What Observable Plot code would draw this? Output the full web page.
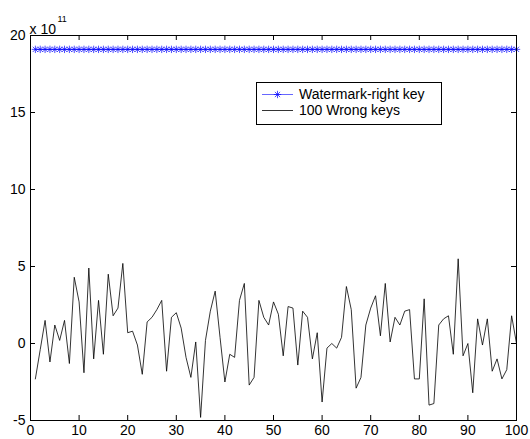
<!DOCTYPE html>
<html><head><meta charset="utf-8">
<script src="https://cdn.jsdelivr.net/npm/d3@7"></script>
<script src="https://cdn.jsdelivr.net/npm/@observablehq/plot@0.6"></script>
<style>
html,body{margin:0;padding:0;background:#fff;}
#chart{position:relative;width:530px;height:439px;}
svg{display:block;}
</style></head><body><div id="chart"></div>
<script>
const seriesNames = ["Watermark-right key", "100 Wrong keys"];
const rightKey = [
19.1,19.1,19.1,19.1,19.1,19.1,19.1,19.1,19.1,19.1,
19.1,19.1,19.1,19.1,19.1,19.1,19.1,19.1,19.1,19.1,
19.1,19.1,19.1,19.1,19.1,19.1,19.1,19.1,19.1,19.1,
19.1,19.1,19.1,19.1,19.1,19.1,19.1,19.1,19.1,19.1,
19.1,19.1,19.1,19.1,19.1,19.1,19.1,19.1,19.1,19.1,
19.1,19.1,19.1,19.1,19.1,19.1,19.1,19.1,19.1,19.1,
19.1,19.1,19.1,19.1,19.1,19.1,19.1,19.1,19.1,19.1,
19.1,19.1,19.1,19.1,19.1,19.1,19.1,19.1,19.1,19.1,
19.1,19.1,19.1,19.1,19.1,19.1,19.1,19.1,19.1,19.1,
19.1,19.1,19.1,19.1,19.1,19.1,19.1,19.1,19.1,19.1];
const wrongKeys = [
-2.3,-0.4,1.5,-1.2,1.2,0.2,1.5,-1.3,4.3,2.7,
-1.9,4.9,-1.0,2.8,-0.7,4.5,1.8,2.3,5.2,0.7,
0.8,-0.1,-2.0,1.4,1.7,2.2,2.8,-1.8,1.7,2.0,
1.0,-0.9,-2.2,0.1,-4.8,0.2,2.1,3.4,0.4,-2.5,
-0.7,-0.9,2.8,3.9,-2.7,-2.2,2.8,1.7,1.2,2.7,
1.9,-0.8,2.4,2.3,-1.4,2.1,1.7,-1.0,0.7,-3.8,
-0.3,0.0,-0.3,0.4,3.7,2.2,-2.9,-2.2,1.2,2.3,
3.1,0.5,3.9,0.1,1.7,1.2,2.1,2.2,-2.3,-2.3,
2.9,-4.0,-3.9,1.2,1.6,1.8,-0.7,5.5,-0.8,0.0,
-3.2,1.6,-0.1,1.6,-1.8,-1.0,-2.3,-1.7,1.8,0.0];
const xTicks = [0,10,20,30,40,50,60,70,80,90,100];
const yTicks = [-5,0,5,10,15,20];
const exponentBase = "x 10";
const exponentPower = "11";

const W = 530, H = 439;
const mL = 30, mR = 14, mT = 35, mB = 19;
const innerW = W - mL - mR, innerH = H - mT - mB;
const font = "'Liberation Sans', Arial, Helvetica, sans-serif";

const rightData = rightKey.map((v, i) => ({x: i + 1, y: v}));
const wrongData = wrongKeys.map((v, i) => ({x: i + 1, y: v}));

const asterisk = {
  draw(ctx, size) {
    const r = Math.sqrt(size / Math.PI);
    const d = r * 0.7071;
    ctx.moveTo(-r, 0); ctx.lineTo(r, 0);
    ctx.moveTo(0, -r); ctx.lineTo(0, r);
    ctx.moveTo(-d, -d); ctx.lineTo(d, d);
    ctx.moveTo(-d, d); ctx.lineTo(d, -d);
  }
};
const markerR = 3.7;

const fmt = d => String(d);

const plot = Plot.plot({
  width: W, height: H,
  marginLeft: mL, marginRight: mR, marginTop: mT, marginBottom: mB,
  style: {fontFamily: font, fontSize: "14px", background: "#fff", color: "#000"},
  x: {domain: [0, 100], label: null},
  y: {domain: [-5, 20], label: null},
  marks: [
    Plot.line(wrongData, {x: "x", y: "y", stroke: "#000", strokeWidth: 0.8}),
    Plot.line(rightData, {x: "x", y: "y", stroke: "#0000ff", strokeWidth: 0.6}),
    Plot.dot(rightData, {x: "x", y: "y", symbol: asterisk, r: markerR, stroke: "#0000ff", fill: "none", strokeWidth: 0.7}),
    Plot.tickX(xTicks, {x: d => d, insetTop: innerH - 5, stroke: "#000"}),
    Plot.tickX(xTicks, {x: d => d, insetBottom: innerH - 5, stroke: "#000"}),
    Plot.tickY(yTicks, {y: d => d, insetRight: innerW - 5, stroke: "#000"}),
    Plot.tickY(yTicks, {y: d => d, insetLeft: innerW - 5, stroke: "#000"}),
    Plot.frame({stroke: "#000"}),
    Plot.axisX(xTicks, {tickSize: 0, tickPadding: 5, tickFormat: fmt, fontSize: 14, label: null}),
    Plot.axisY(yTicks, {tickSize: 0, tickPadding: 5, tickFormat: fmt, fontSize: 14, label: null}),
    Plot.text([exponentBase], {frameAnchor: "top-left", text: d => d, textAnchor: "start", dx: -1, dy: -11, fontSize: 14}),
    Plot.text([exponentPower], {frameAnchor: "top-left", text: d => d, textAnchor: "start", dx: 27, dy: -20, fontSize: 9})
  ]
});

document.getElementById("chart").appendChild(plot);

// legend inside the axes
const svg = d3.select(plot);
const lg = svg.append("g").attr("font-family", font).attr("font-size", 14).attr("text-anchor", "start");
lg.append("rect").attr("x", 256.5).attr("y", 82.5).attr("width", 185).attr("height", 42)
  .attr("fill", "#fff").attr("stroke", "#000").attr("stroke-width", 1);
const rows = [
  {name: seriesNames[0], color: "#0000ff", marker: true, y: 94.5},
  {name: seriesNames[1], color: "#000", marker: false, y: 110.5}
];
rows.forEach(r => {
  lg.append("line").attr("x1", 262).attr("x2", 293).attr("y1", r.y).attr("y2", r.y)
    .attr("stroke", r.color).attr("stroke-width", r.marker ? 0.6 : 0.8);
  if (r.marker) {
    const p = d3.path();
    asterisk.draw(p, Math.PI * markerR * markerR);
    lg.append("path").attr("d", p.toString()).attr("transform", `translate(277.5,${r.y})`)
      .attr("stroke", r.color).attr("fill", "none").attr("stroke-width", 0.7);
  }
  lg.append("text").attr("x", 299).attr("y", r.y).attr("dy", "0.35em")
    .attr("text-anchor", "start").attr("fill", "#000").text(r.name);
});
</script>
</body></html>
